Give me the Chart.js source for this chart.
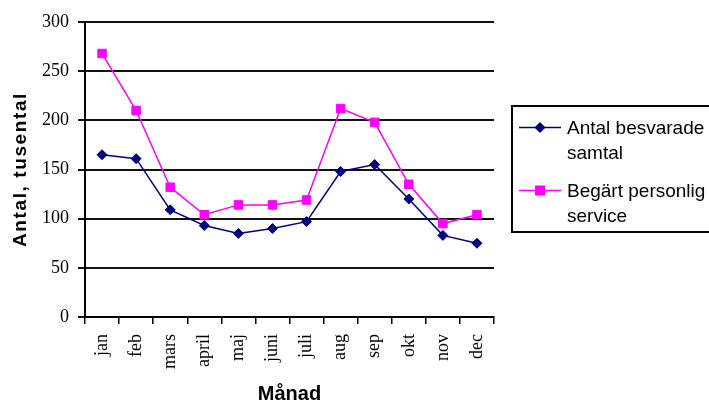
<!DOCTYPE html>
<html lang="sv">
<head>
<meta charset="utf-8">
<title>Antal besvarade samtal och begärd personlig service per månad</title>
<script src="https://cdn.jsdelivr.net/npm/chart.js@4/dist/chart.umd.min.js"></script>
<style>
  html, body { margin: 0; padding: 0; background: #fff; overflow: hidden; }
  #wrap { position: relative; width: 709px; height: 406px; overflow: hidden; }
  #chart { position: absolute; left: 0; top: 0; }
  #legend {
    position: absolute; left: 511px; top: 105px; width: 260px; height: 128px;
    border: 2px solid #000; border-right: none; box-sizing: border-box; padding: 8px 0 0 6px;
    font-family: "Liberation Sans", Arial, sans-serif; font-size: 19px; line-height: 25px; color: #000;
  }
  .item { display: flex; align-items: flex-start; margin-bottom: 13px; }
  .item svg { flex: 0 0 auto; margin-right: 6px; }
  .item span { width: 145px; }
</style>
</head>
<body>
<div id="wrap">
  <canvas id="chart" width="709" height="406"></canvas>
  <div id="legend"></div>
</div>
<script>
// Månader och värden (tusental)
const months = ['jan', 'feb', 'mars', 'april', 'maj', 'juni', 'juli', 'aug', 'sep', 'okt', 'nov', 'dec'];
const answeredCalls = [165, 161, 109, 93, 85, 90, 97, 148, 155, 120, 83, 75];
const personalService = [268, 210, 132, 104, 114, 114, 119, 212, 198, 135, 95, 104];
const seriesNames = ['Antal besvarade samtal', 'Begärt personlig service'];
const yTicks = [0, 50, 100, 150, 200, 250, 300];

const NAVY = '#000080';
const MAGENTA = '#FF00FF';

Chart.defaults.font.family = '"Liberation Serif", "Times New Roman", serif';
Chart.defaults.color = '#000';

// Wider letter spacing for the vertical axis title
const spacedTitle = {
  id: 'spacedTitle',
  afterLayout(chart) {
    const s = chart.scales.y;
    if (s && !s._spacedTitle) {
      const orig = s.drawTitle.bind(s);
      s.drawTitle = function () {
        const ctx = chart.ctx;
        ctx.save();
        ctx.letterSpacing = '1.6px';
        orig();
        ctx.restore();
      };
      s._spacedTitle = true;
    }
  }
};

const chart = new Chart(document.getElementById('chart'), {
  type: 'line',
  data: {
    labels: months,
    datasets: [
      {
        label: seriesNames[0],
        data: answeredCalls,
        borderColor: NAVY,
        backgroundColor: NAVY,
        borderWidth: 1.5,
        pointStyle: 'rectRot',
        pointRadius: 5,
        pointBorderWidth: 1,
        tension: 0
      },
      {
        label: seriesNames[1],
        data: personalService,
        borderColor: MAGENTA,
        backgroundColor: MAGENTA,
        borderWidth: 1.5,
        pointStyle: 'rect',
        pointRadius: 6,
        pointBorderWidth: 1,
        tension: 0
      }
    ]
  },
  options: {
    responsive: false,
    animation: false,
    layout: { padding: { left: 0, top: 22, right: 215, bottom: 0 } },
    plugins: {
      legend: { display: false },
      tooltip: { enabled: false }
    },
    scales: {
      x: {
        type: 'category',
        offset: true,
        grid: {
          offset: true,
          drawOnChartArea: false,
          drawTicks: true,
          tickLength: 7,
          color: '#000',
          lineWidth: 1.5
        },
        border: { display: true, color: '#000', width: 2 },
        ticks: {
          minRotation: 90,
          maxRotation: 90,
          autoSkip: false,
          padding: 10,
          font: { size: 18 },
          color: '#000'
        },
        title: {
          display: true,
          text: 'Månad',
          font: { family: '"Liberation Sans", Arial, sans-serif', size: 20, weight: 'bold' },
          color: '#000',
          padding: { top: 0, bottom: 0 }
        },
        afterFit(scale) { scale.height = 89; }
      },
      y: {
        min: 0,
        max: 300,
        afterBuildTicks(scale) { scale.ticks = yTicks.map(v => ({ value: v })); },
        grid: {
          color: '#111',
          lineWidth: 2,
          tickLength: 7,
          drawTicks: true
        },
        border: { display: true, color: '#000', width: 2 },
        ticks: {
          padding: 9,
          font: { size: 18 },
          color: '#000'
        },
        title: {
          display: true,
          text: 'Antal, tusental',
          font: { family: '"Liberation Sans", Arial, sans-serif', size: 19, weight: 'bold' },
          color: '#000',
          padding: { top: 9, bottom: 0 }
        },
        afterFit(scale) { scale.width = 85; }
      }
    }
  },
  plugins: [spacedTitle]
});

// Legend built from the chart's datasets
function markerSvg(ds) {
  const c = ds.borderColor;
  let mark;
  if (ds.pointStyle === 'rect') {
    mark = `<rect x="16" y="7.5" width="10" height="10" fill="${c}"/>`;
  } else {
    mark = `<polygon points="21,7 26.5,12.5 21,18 15.5,12.5" fill="${c}"/>`;
  }
  return `<svg width="42" height="25" viewBox="0 0 42 25"><line x1="0" y1="12.5" x2="42" y2="12.5" stroke="${c}" stroke-width="1.5"/>${mark}</svg>`;
}
const legendEl = document.getElementById('legend');
legendEl.innerHTML = chart.data.datasets.map(ds =>
  `<div class="item">${markerSvg(ds)}<span>${ds.label}</span></div>`
).join('');
</script>
</body>
</html>
